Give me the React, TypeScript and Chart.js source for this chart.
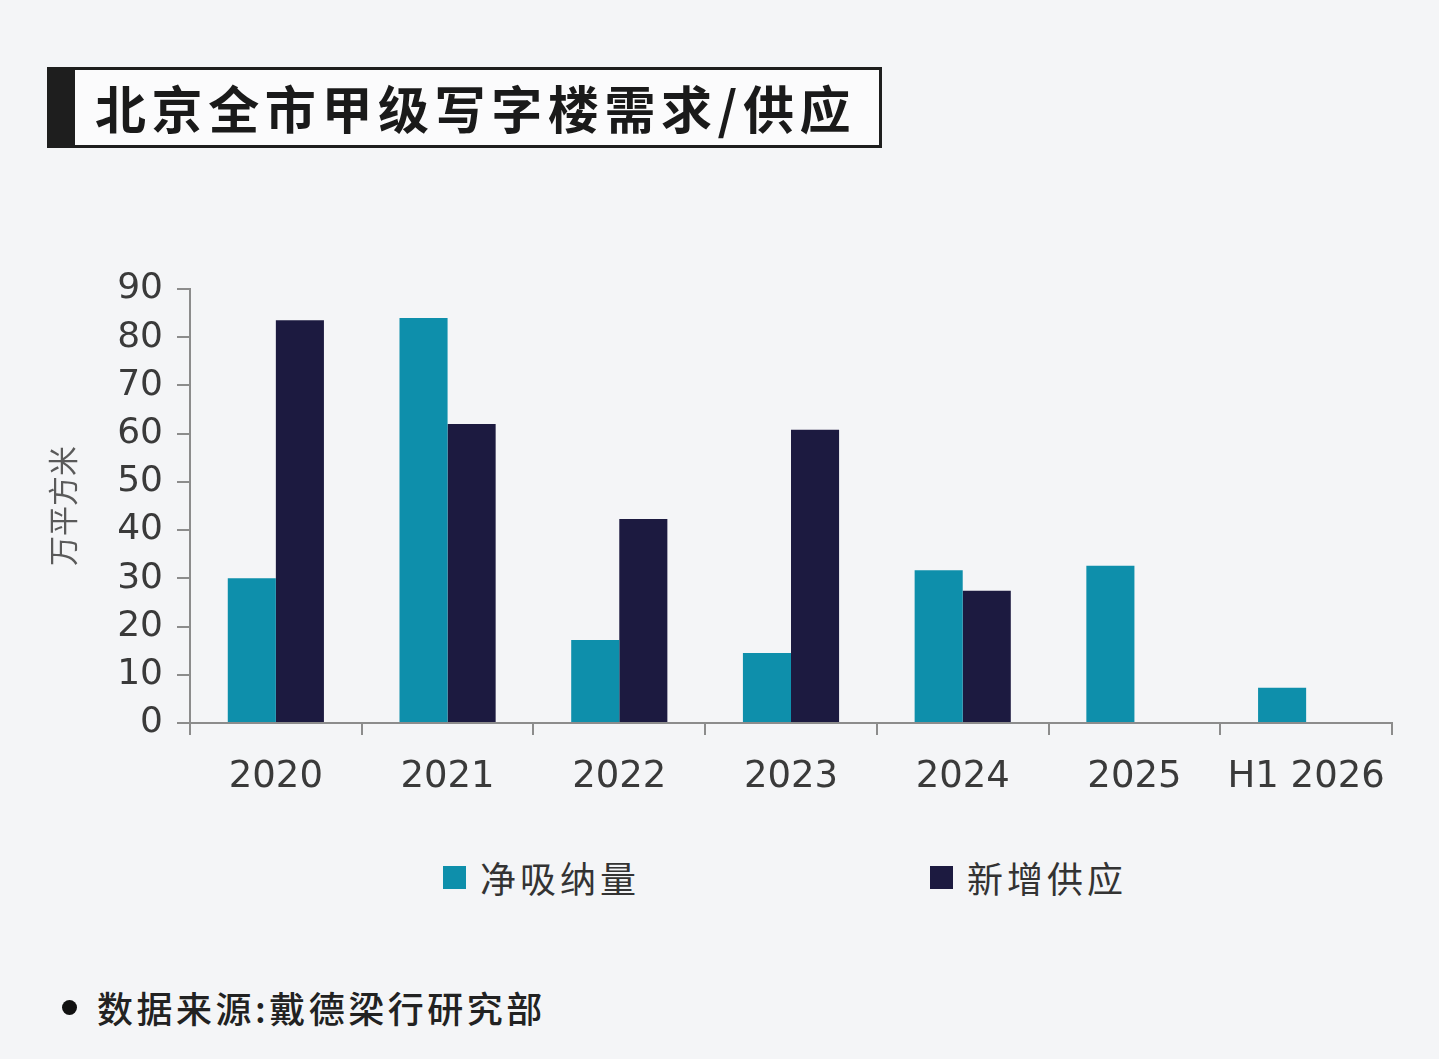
import React, { useEffect, useRef } from "react";
import { Chart, registerables } from "chart.js";

Chart.register(...registerables);

const categories = ["2020", "2021", "2022", "2023", "2024", "2025", "H1 2026"];
const netAbsorption = [30, 84, 17.2, 14.5, 31.7, 32.6, 7.3];
const newSupply: (number | null)[] = [83.5, 62, 42.3, 60.8, 27.4, null, null];
const seriesLabels = ["净吸纳量", "新增供应"];
const seriesColors = ["#0e8fab", "#1c1a40"];
const yTicks = [0, 10, 20, 30, 40, 50, 60, 70, 80, 90];

const axisColor = "#8c8c8c";
const cjk = '"Noto Sans CJK SC", "Noto Sans", sans-serif';

const App: React.FC = () => {
  const canvasRef = useRef<HTMLCanvasElement | null>(null);
  const chartRef = useRef<Chart | null>(null);

  useEffect(() => {
    if (!canvasRef.current) return;
    const ctx = canvasRef.current.getContext("2d");
    if (!ctx) return;
    if (chartRef.current) chartRef.current.destroy();

    chartRef.current = new Chart(ctx, {
      type: "bar",
      data: {
        labels: categories,
        datasets: [
          {
            label: seriesLabels[0],
            data: netAbsorption,
            backgroundColor: seriesColors[0],
            categoryPercentage: 0.56,
            barPercentage: 1,
          },
          {
            label: seriesLabels[1],
            data: newSupply,
            backgroundColor: seriesColors[1],
            categoryPercentage: 0.56,
            barPercentage: 1,
          },
        ],
      },
      options: {
        responsive: false,
        animation: false,
        layout: { padding: { top: 39, right: 28, bottom: 0, left: 0 } },
        plugins: {
          legend: { display: false },
          tooltip: { enabled: false },
        },
        scales: {
          x: {
            grid: {
              display: true,
              offset: true,
              drawOnChartArea: false,
              drawTicks: true,
              tickLength: 12,
              color: axisColor,
              lineWidth: 2,
            },
            border: { display: true, color: axisColor, width: 2 },
            ticks: {
              color: "#3a3a3a",
              padding: 20,
              font: { family: '"DejaVu Sans", sans-serif', size: 37 },
              maxRotation: 0,
            },
            afterFit: (scale: any) => {
              scale.height = 87;
              scale.paddingLeft = 0;
              scale.paddingRight = 0;
            },
          },
          y: {
            min: 0,
            max: 90,
            afterBuildTicks: (scale: any) => {
              scale.ticks = yTicks.map((v) => ({ value: v }));
            },
            grid: {
              display: true,
              drawOnChartArea: false,
              drawTicks: true,
              tickLength: 13,
              color: axisColor,
              lineWidth: 2,
            },
            border: { display: true, color: axisColor, width: 2 },
            ticks: {
              color: "#3a3a3a",
              padding: 14,
              font: { family: '"DejaVu Sans", sans-serif', size: 36 },
            },
            title: {
              display: true,
              text: "万平方米",
              color: "#5a5a5a",
              font: { family: cjk, size: 30 },
              padding: { top: 5, bottom: 0 },
            },
            afterFit: (scale: any) => {
              scale.width = 150;
              scale.paddingTop = 0;
              scale.paddingBottom = 0;
            },
          },
        },
      },
    });

    return () => {
      if (chartRef.current) {
        chartRef.current.destroy();
        chartRef.current = null;
      }
    };
  }, []);

  const legendX = [443, 930];

  return (
    <div
      style={{
        position: "fixed",
        left: 0,
        top: 0,
        width: 1439,
        height: 1059,
        background: "#f4f5f7",
        overflow: "hidden",
      }}
    >
      {/* title box */}
      <div
        style={{
          position: "absolute",
          left: 47,
          top: 67,
          width: 835,
          height: 81,
          boxSizing: "border-box",
          border: "3px solid #1e1e1e",
          borderLeft: "28px solid #1e1e1e",
          background: "#fbfbfc",
        }}
      >
        <div
          style={{
            position: "absolute",
            left: 20,
            top: 0,
            height: 75,
            lineHeight: "75px",
            fontFamily: cjk,
            fontWeight: 700,
            fontSize: 51,
            letterSpacing: 5.6,
            color: "#1a1a1a",
            whiteSpace: "nowrap",
          }}
        >
          北京全市甲级写字楼需求/供应
        </div>
      </div>

      <canvas
        ref={canvasRef}
        width={1380}
        height={560}
        style={{ position: "absolute", left: 40, top: 250 }}
      />

      {/* legend */}
      {seriesLabels.map((label, i) => (
        <div
          key={label}
          style={{
            position: "absolute",
            left: legendX[i],
            top: 852,
            height: 50,
            display: "flex",
            alignItems: "center",
            whiteSpace: "nowrap",
          }}
        >
          <span
            style={{
              display: "inline-block",
              width: 23,
              height: 23,
              background: seriesColors[i],
              marginRight: 14,
            }}
          />
          <span
            style={{
              fontFamily: cjk,
              fontSize: 36,
              color: "#333",
              letterSpacing: 4,
            }}
          >
            {label}
          </span>
        </div>
      ))}

      {/* source */}
      <div
        style={{
          position: "absolute",
          left: 62,
          top: 982,
          height: 50,
          display: "flex",
          alignItems: "center",
          whiteSpace: "nowrap",
        }}
      >
        <span
          style={{
            display: "inline-block",
            width: 15,
            height: 15,
            borderRadius: "50%",
            background: "#111",
            marginRight: 20,
          }}
        />
        <span
          style={{
            fontFamily: cjk,
            fontSize: 36,
            fontWeight: 500,
            color: "#222",
            letterSpacing: 3.5,
          }}
        >
          数据来源:戴德梁行研究部
        </span>
      </div>
    </div>
  );
};

export default App;
